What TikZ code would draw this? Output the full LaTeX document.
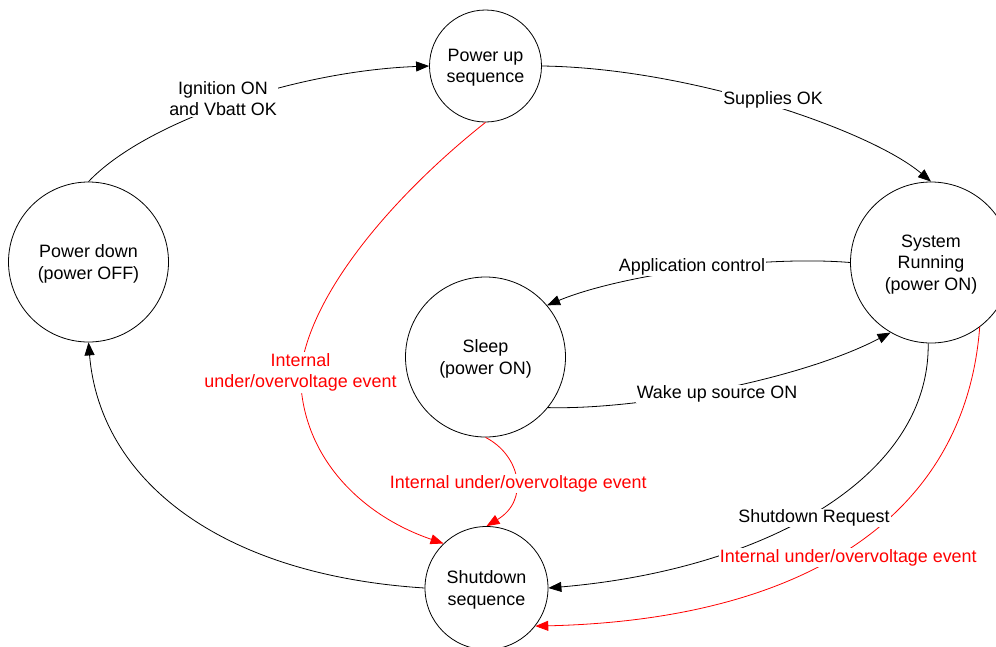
\documentclass[tikz,border=0pt]{standalone}
\usepackage{fontspec}
\setmainfont{Liberation Sans}
\usetikzlibrary{arrows.meta}
\definecolor{evred}{RGB}{255,0,0}
\begin{document}
\begin{tikzpicture}[x=1pt,y=-1pt,
  every node/.style={font=\fontsize{17.9}{21.5}\selectfont},
  state/.style={circle,draw,line width=0.8pt,align=center,inner sep=0pt,text depth=0pt},
  edge/.style={line width=0.8pt,-{Triangle[length=13pt,width=10pt]}},
  redge/.style={edge,color=evred},
  lbl/.style={fill=white,inner sep=1pt,align=center},
  rlbl/.style={lbl,text=evred}]
\useasboundingbox (0,0) rectangle (996,646);
\clip (0,0) rectangle (996,646);

% states
\node[state,minimum size=112pt] (pu) at (485.5,66) {Power up\\sequence};
\node[state,minimum size=160pt] (pd) at (88.5,262) {Power down\\(power OFF)};
\node[state,minimum size=161pt] (sr) at (931,262.5) {System\\Running\\(power ON)};
\node[state,minimum size=160pt] (sl) at (485.5,357) {Sleep\\(power ON)};
\node[state,minimum size=123pt] (sd) at (486.5,588) {Shutdown\\sequence};

% black transitions
\draw[edge] (pd.north) .. controls (145,122) and (295,71) .. (pu.west);
\draw[edge] (pu.east) .. controls (690,68) and (870,130) .. (sr.north);
\draw[edge] (sr.west) .. controls (760,255) and (620,275) .. (sl.40);
\draw[edge] (sl.-39) .. controls (640,410) and (800,380) .. (sr.240);
\draw[edge] (sr.268) .. controls (930,480) and (760,570) .. (sd.east);
\draw[edge] (sd.west) .. controls (220,575) and (100,480) .. (pd.south);

% red transitions
\coordinate (c7) at (300.5,372.5);
\draw[redge] (pu.south) .. controls (400,190) and (310,290) .. (c7)
  .. controls (300,455) and (360,515) .. (sd.134);
\draw[redge] (sl.south) .. controls (520,455) and (530,500) .. (sd.north);
\draw[redge] (sr.-53) .. controls (965,520) and (800,620) .. (sd.-38);

% labels
\node[lbl] (l1) at (223,98.5) {Ignition ON\\and Vbatt OK};
\node[lbl] (l2) at (773,99.5) {Supplies OK};
\node[lbl] (l3) at (692,266.5) {Application control};
\node[lbl] (l4) at (717,394) {Wake up source ON};
\node[lbl] (l5) at (814,518) {Shutdown Request};
\node[rlbl] (l6) at (c7) {Internal\\under/overvoltage event};
\node[rlbl] (l7) at (518.3,483.8) {Internal under/overvoltage event};
\node[rlbl] (l8) at (848.3,557.5) {Internal under/overvoltage event};
\end{tikzpicture}
\end{document}
